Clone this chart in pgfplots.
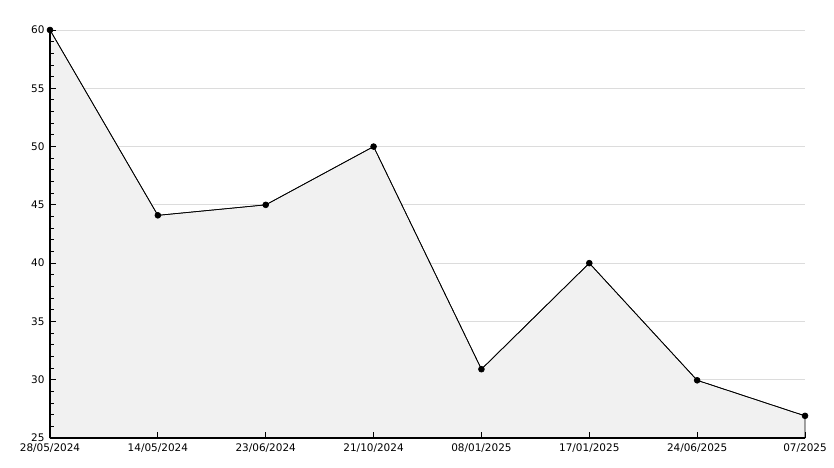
\documentclass[border=0pt]{standalone}
\usepackage{fontspec}
\setmainfont{DejaVu Sans}
\usepackage{pgfplots}
\pgfplotsset{compat=1.18}
\definecolor{gridc}{HTML}{DCDCDC}
\definecolor{fillc}{HTML}{F1F1F1}
\pgfplotsset{
  base/.style={
    at={(50bp,30bp)}, anchor=south west,
    scale only axis, width=755bp, height=408bp,
    xmin=0, xmax=7, ymin=25, ymax=60,
    xtick={0,...,7},
    ytick={25,30,...,60},
    minor y tick num=4,
    clip=false,
  },
}
\begin{document}
\begin{tikzpicture}[x=1bp,y=1bp]
\path (0,0) rectangle (834,468);
% layer 1: grid and data
\begin{axis}[
  base,
  axis line style={draw=none},
  tick style={draw=none},
  xticklabels={}, yticklabels={},
  ymajorgrids, major grid style={gridc, line width=0.8bp},
]
\addplot[fill=fillc, draw=black, line width=0.7bp] coordinates {
(0,60) (1,44.1) (2,45) (3,50) (4,30.9) (5,40) (6,29.95) (7,26.9)
} \closedcycle;
\addplot[black, line width=0.7bp, mark=*, mark size=2.9bp, mark options={fill=black}] coordinates {
(0,60) (1,44.1) (2,45) (3,50) (4,30.9) (5,40) (6,29.95) (7,26.9)
};
\end{axis}
% layer 2: axis lines, ticks, labels
\begin{axis}[
  base,
  axis x line=bottom, axis y line=left,
  axis line style={-, line width=1.4bp, black},
  xticklabels={28/05/2024,14/05/2024,23/06/2024,21/10/2024,08/01/2025,17/01/2025,24/06/2025,07/2025},
  tick align=inside,
  major tick length=5.5bp, minor tick length=3.8bp,
  every tick/.style={black, line width=0.9bp},
  ticklabel style={font=\fontsize{10.5}{12}\selectfont},
  /pgf/number format/assume math mode=true,
  xticklabel style={yshift=-2.5bp},
  yticklabel style={xshift=-2bp},
]
\end{axis}
\end{tikzpicture}
\end{document}
